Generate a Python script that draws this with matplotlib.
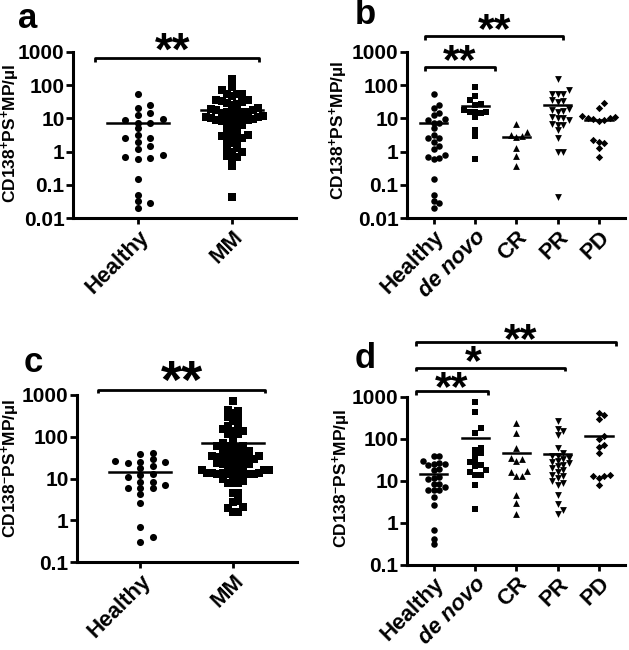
import numpy as np
import matplotlib
matplotlib.use('Agg')
import matplotlib.pyplot as plt
from matplotlib.ticker import FixedLocator, FixedFormatter, NullLocator

plt.rcParams['font.family'] = ['Liberation Sans', 'DejaVu Sans']
plt.rcParams['font.weight'] = 'bold'
plt.rcParams['mathtext.fontset'] = 'custom'
plt.rcParams['mathtext.rm'] = 'Liberation Sans:bold'
plt.rcParams['mathtext.bf'] = 'Liberation Sans:bold'
plt.rcParams['mathtext.it'] = 'Liberation Sans:bold:italic'
plt.rcParams['mathtext.default'] = 'bf'

# ---------------- data ----------------
groups_2 = ['Healthy', 'MM']
groups_5 = ['Healthy', 'de novo', 'CR', 'PR', 'PD']

# CD138+PS+ MP/ul  (panels a, b)
healthy_pos = [52, 25, 21, 14, 13, 9.5, 9, 7.4, 7.4, 5, 3.2, 2.5, 2.5, 1.9,
               1.5, 1.2, 0.8, 0.68, 0.63, 0.59, 0.15, 0.049, 0.033, 0.028, 0.021]
denovo_pos = [85, 48, 35, 27, 25, 18, 16, 16, 15, 14, 11, 4.5, 3.0, 0.6]
cr_pos = [7, 3.8, 3.2, 3.0, 2.8, 1.3, 0.75, 0.36]
pr_pos = [150, 70, 55, 55, 52, 35, 33, 30, 19, 18, 17, 16, 11, 10.5, 10, 9,
          7, 6.5, 6.5, 4.5, 2.6, 1.0, 0.95, 0.045]
pd_pos = [28, 20, 12, 11, 10, 10, 9.5, 9, 8.5, 2.2, 2.0, 1.8, 1.3, 0.7]
mm_pos = denovo_pos + cr_pos + pr_pos + pd_pos

# CD138-PS+ MP/ul  (panels c, d)
healthy_neg = [40, 38, 29, 26, 25, 24.5, 23.5, 19.6, 18, 12.6, 12, 10.8, 8.3,
               8.3, 7.1, 6, 6, 6, 4.2, 2.6, 0.68, 0.41, 0.31]
denovo_neg = [730, 440, 180, 140, 60, 55, 45, 40, 30, 28, 24, 22, 18, 16, 14,
              14, 8, 2.1]
cr_neg = [235, 135, 60, 35, 33, 30, 17, 16, 13, 13, 4.6, 2.9, 1.6]
pr_neg = [260, 170, 150, 120, 60, 45, 40, 38, 35, 33, 30, 28, 26, 24, 22, 20,
          18, 16, 14, 13, 12, 10, 9, 8, 4.5, 2.8, 2.0, 1.6]
pd_neg = [410, 370, 290, 115, 100, 70, 65, 45, 14, 13, 13, 12, 8]
mm_neg = denovo_neg + cr_neg + pr_neg + pd_neg

yt_ab = [0.01, 0.1, 1, 10, 100, 1000]
yl_ab = ['0.01', '0.1', '1', '10', '100', '1000']
yt_cd = [0.1, 1, 10, 100, 1000]
yl_cd = ['0.1', '1', '10', '100', '1000']

ylab_pos = r'CD138$^{+}$PS$^{+}$MP/µl'
ylab_neg = r'CD138$^{-}$PS$^{+}$MP/µl'

# ---------------- figure ----------------
W, H = 629, 650
fig = plt.figure(figsize=(W / 100, H / 100), dpi=100)


def px_axes(l, r, t, b):
    return fig.add_axes([l / W, 1 - b / H, (r - l) / W, (b - t) / H])


def style(ax, xlim, ylim, yt, yl, cats):
    ax.set_yscale('log')
    ax.set_xlim(*xlim)
    ax.set_ylim(*ylim)
    for s in ['top', 'right']:
        ax.spines[s].set_visible(False)
    for s in ['left', 'bottom']:
        ax.spines[s].set_linewidth(2.2)
    ax.yaxis.set_major_locator(FixedLocator(yt))
    ax.yaxis.set_major_formatter(FixedFormatter(yl))
    ax.yaxis.set_minor_locator(NullLocator())
    ax.set_xticks(range(len(cats)))
    ax.tick_params(axis='y', labelsize=15, width=2, length=5, pad=1)
    ax.tick_params(axis='x', labelsize=16, width=2, length=4, pad=2)
    labs = ax.set_xticklabels(cats, rotation=45, ha='right',
                              rotation_mode='anchor')
    for t in labs:
        t.set_fontweight('bold')
        if t.get_text() == 'de novo':
            t.set_fontstyle('italic')
    for t in ax.get_yticklabels():
        t.set_fontweight('bold')


def swarm_x(ax, vals, xc, step_px, dia_px):
    vals = np.asarray(vals, float)
    tr = ax.transData
    pts = tr.transform(np.column_stack([np.full(len(vals), xc), vals]))
    x0 = pts[0, 0]
    ys = pts[:, 1]
    order = np.argsort(ys)
    placed = []
    offs = np.zeros(len(vals))
    cands = [0]
    for j in range(1, 40):
        cands += [j, -j]
    for i in order:
        for c in cands:
            ox = c * step_px
            ok = True
            for (px, py) in placed:
                if abs(ox - px) < step_px * 0.99 and abs(ys[i] - py) < dia_px:
                    ok = False
                    break
            if ok:
                break
        placed.append((ox, ys[i]))
        offs[i] = ox
    inv = tr.inverted()
    return inv.transform(np.column_stack([x0 + offs, ys]))[:, 0]


def draw_group(ax, vals, xc, marker, size, step_px, dia_px):
    xs = swarm_x(ax, vals, xc, step_px, dia_px)
    ax.scatter(xs, vals, marker=marker, s=size, c='black', linewidths=0,
               zorder=3, clip_on=False)
    m = np.mean(vals)
    ax.plot([xc - 0.33, xc + 0.33], [m, m], color='black', lw=1.8, zorder=4)


def bracket(ax, x1, x2, logy, drop, text, xtext, above_px, fs):
    yb = 10 ** logy
    ye = 10 ** (logy - drop)
    ax.plot([x1, x1, x2, x2], [ye, yb, yb, ye], color='black', lw=2,
            clip_on=False, solid_capstyle='butt')
    em = fs * 100 / 72
    off_pt = (above_px - 0.50 * em) * 0.72
    ax.annotate(text, xy=(xtext, yb), xytext=(0, off_pt),
                textcoords='offset points', ha='center', va='baseline',
                fontsize=fs, fontweight='bold', annotation_clip=False)


markers5 = ['o', 's', '^', 'v', 'D']
sizes5 = [22, 24, 24, 24, 14]

# ---- panel a ----
ax_a = px_axes(73, 296, 51.7, 218.3)
style(ax_a, (-0.69, 1.68), (0.01, 1000), yt_ab, yl_ab, groups_2)
draw_group(ax_a, healthy_pos, 0, 'o', 26, 12.5, 5.5)
draw_group(ax_a, mm_pos, 1, 's', 30, 5.2, 5.5)
bracket(ax_a, -0.46, 1.29, 2.81, 0.11, '**', 0.37, 16, 33)

# ---- panel b ----
ax_b = px_axes(407, 625, 51.7, 218.3)
style(ax_b, (-0.65, 4.63), (0.01, 1000), yt_ab, yl_ab, groups_5)
for i, vals in enumerate([healthy_pos, denovo_pos, cr_pos, pr_pos, pd_pos]):
    draw_group(ax_b, vals, i, markers5[i], sizes5[i], 5.5, 5.0)
bracket(ax_b, -0.22, 3.12, 3.47, 0.12, '**', 1.48, 15, 31)
bracket(ax_b, -0.22, 1.48, 2.55, 0.12, '**', 0.63, 15, 31)

# ---- panel c ----
ax_c = px_axes(77, 297, 395, 562.3)
style(ax_c, (-0.68, 1.69), (0.1, 1000), yt_cd, yl_cd, groups_2)
draw_group(ax_c, healthy_neg, 0, 'o', 26, 12.5, 5.5)
draw_group(ax_c, mm_neg, 1, 's', 30, 5.2, 5.5)
bracket(ax_c, -0.45, 1.34, 3.12, 0.08, '**', 0.45, 19, 39)

# ---- panel d ----
ax_d = px_axes(407, 625, 396.7, 565)
style(ax_d, (-0.65, 4.63), (0.1, 1000), yt_cd, yl_cd, groups_5)
for i, vals in enumerate([healthy_neg, denovo_neg, cr_neg, pr_neg, pd_neg]):
    draw_group(ax_d, vals, i, markers5[i], sizes5[i], 5.5, 5.0)
bracket(ax_d, -0.42, 4.41, 4.306, 0.1, '**', 2.1, 11, 31)
bracket(ax_d, -0.42, 3.17, 3.689, 0.08, '*', 0.95, 15, 31)
bracket(ax_d, -0.42, 1.32, 3.135, 0.09, '**', 0.44, 12, 31)

# ---- labels ----
for (x, y, s) in [(28, 18, 'a'), (365, 15, 'b'), (33, 362, 'c'), (365, 358, 'd')]:
    fig.text(x / W, 1 - y / H, s, fontsize=25, fontweight='bold',
             ha='center', va='center')
for (x, y, s) in [(10.5, 133, ylab_pos), (339, 130, ylab_pos),
                  (11, 468, ylab_neg), (342, 478, ylab_neg)]:
    fig.text(x / W, 1 - y / H, s, fontsize=12.5, fontweight='bold',
             rotation=90, ha='center', va='center')

fig.savefig('out.png', dpi=100)
